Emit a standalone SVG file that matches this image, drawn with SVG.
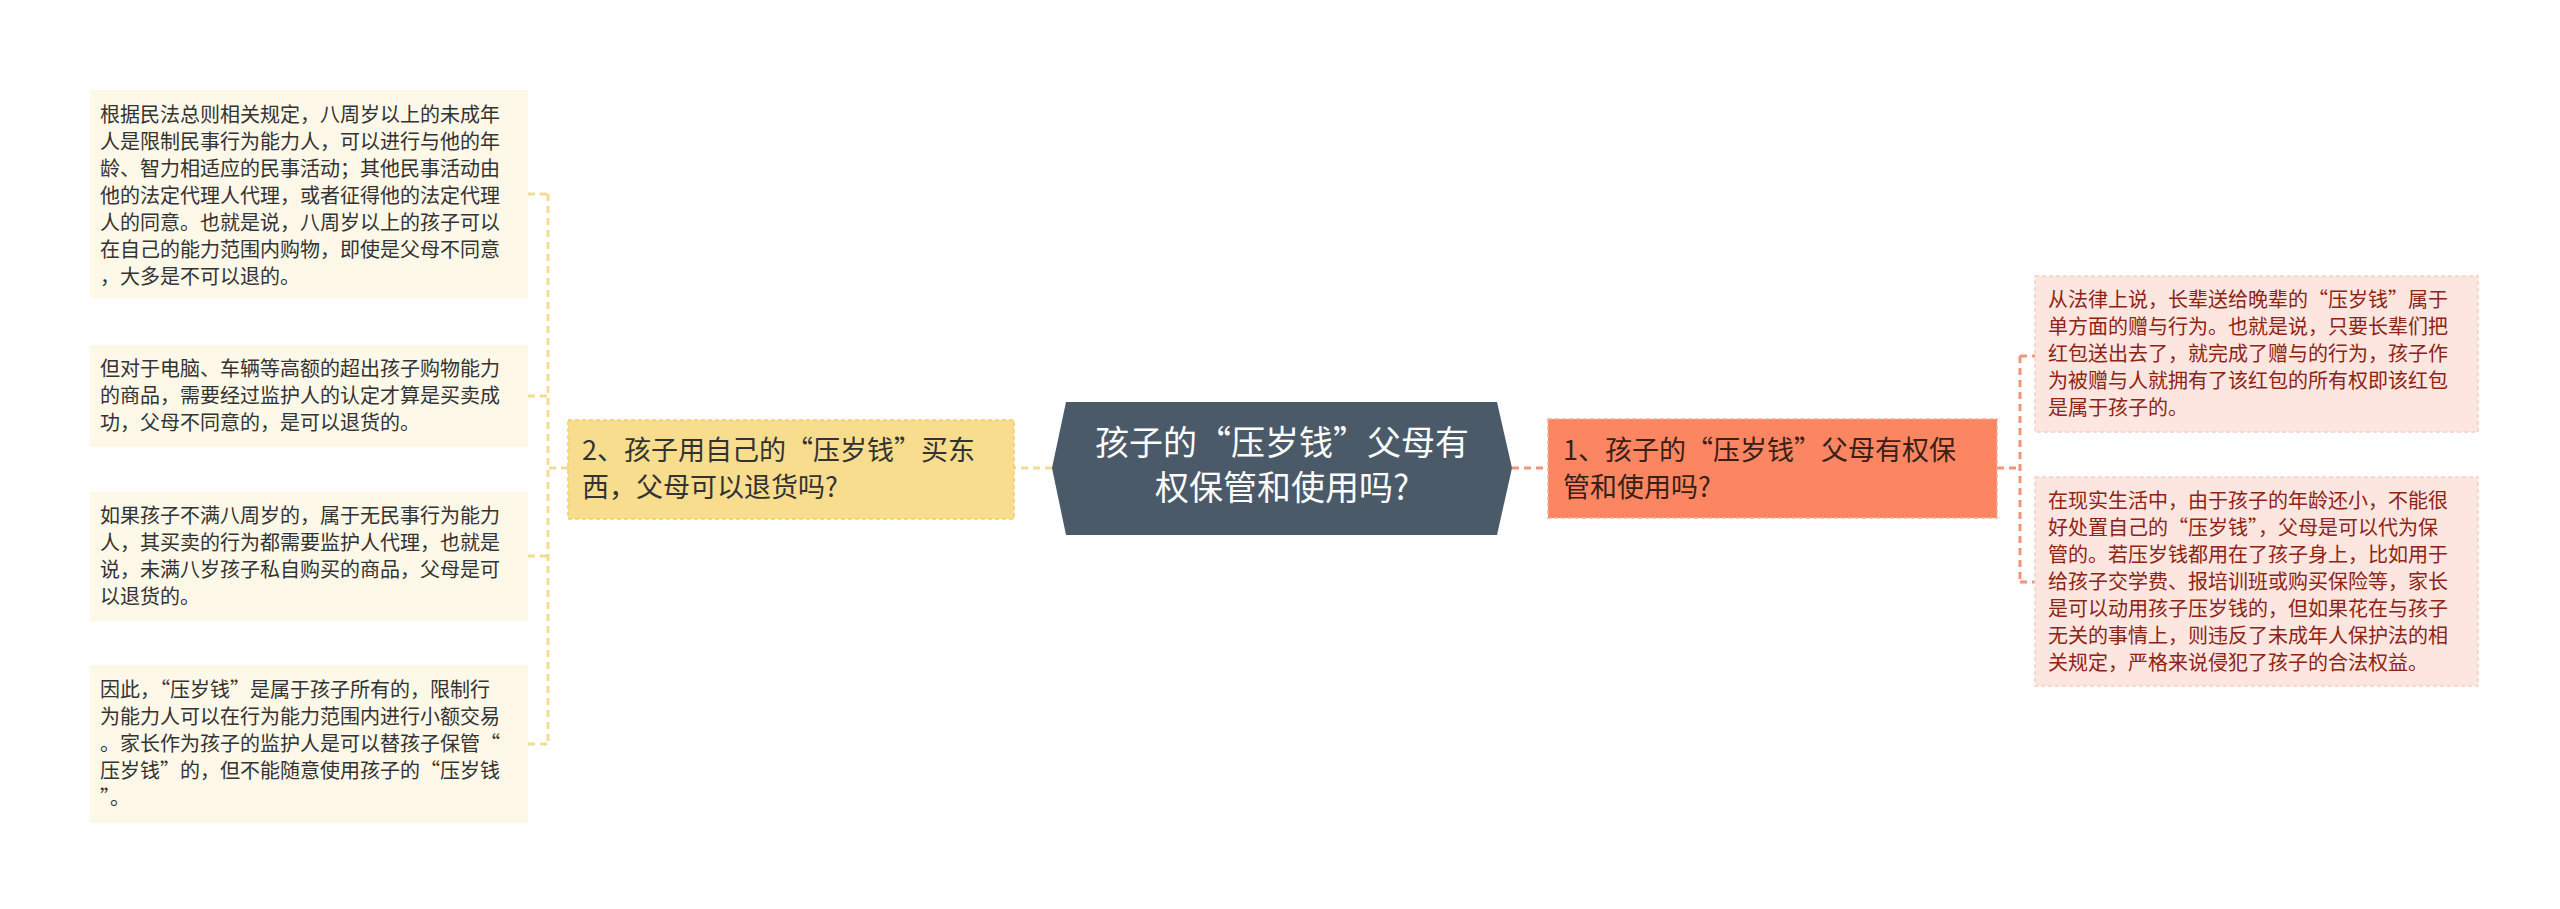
<svg xmlns="http://www.w3.org/2000/svg" width="2560" height="909" viewBox="0 0 2560 909">
<style>
text{font-family:"Noto Sans CJK SC","Noto Sans",sans-serif}
.ll{fill:#fdf8e8}
.lt{font-size:20px;fill:#333}
.rl{fill:#fde5e0;stroke:#f7cfc6;stroke-width:1.5;stroke-dasharray:4 3}
.rt{font-size:20px;fill:#8e2414}
.cy{fill:none;stroke:#f2dc92;stroke-width:2;stroke-dasharray:7 5}
.cr{fill:none;stroke:#f0957a;stroke-width:2;stroke-dasharray:7 5}
</style>
<rect width="2560" height="909" fill="#fff"/>
<g id="connectors">
<path class="cy" d="M1052 468H1014M568 468H548M548 194V744M528 194H548M528 396H548M528 556H548M528 744H548" style="stroke-width:3"/>
<path class="cr" d="M1512 468H1548M1997 468H2020M2020 356V582M2020 356H2035M2020 582H2035" style="stroke-width:3"/>
</g>
<g id="center">
<polygon points="1066,402 1497,402 1512,468 1497,535 1066,535 1052,468" fill="#4b5a69"/>
<text x="1282" y="455" font-size="34" fill="#fff" text-anchor="middle">孩子的“压岁钱”父母有</text>
<text x="1282" y="500" font-size="34" fill="#fff" text-anchor="middle">权保管和使用吗?</text>
</g>
<g id="left-main">
<rect x="568" y="420" width="446" height="99" fill="#f8dd8e" stroke="#f0ce6e" stroke-width="1.5" stroke-dasharray="4 3"/>
<text x="582" y="460" font-size="27" fill="#333">2、孩子用自己的“压岁钱”买东</text>
<text x="582" y="497" font-size="27" fill="#333">西，父母可以退货吗?</text>
</g>
<g id="right-main">
<rect x="1548" y="419" width="449" height="99" fill="#fd8662" stroke="#f0b09a" stroke-width="1.5" stroke-dasharray="4 3"/>
<text x="1563" y="460" font-size="27" fill="#3a2016">1、孩子的“压岁钱”父母有权保</text>
<text x="1563" y="497" font-size="27" fill="#3a2016">管和使用吗?</text>
</g>
<g id="leaf-l1">
<rect class="ll" x="90" y="90" width="438" height="208"/>
<text class="lt"><tspan x="100" y="122">根据民法总则相关规定，八周岁以上的未成年</tspan><tspan x="100" y="149">人是限制民事行为能力人，可以进行与他的年</tspan><tspan x="100" y="176">龄、智力相适应的民事活动；其他民事活动由</tspan><tspan x="100" y="203">他的法定代理人代理，或者征得他的法定代理</tspan><tspan x="100" y="230">人的同意。也就是说，八周岁以上的孩子可以</tspan><tspan x="100" y="257">在自己的能力范围内购物，即使是父母不同意</tspan><tspan x="100" y="284">，大多是不可以退的。</tspan></text>
</g>
<g id="leaf-l2">
<rect class="ll" x="90" y="345" width="438" height="102"/>
<text class="lt"><tspan x="100" y="376">但对于电脑、车辆等高额的超出孩子购物能力</tspan><tspan x="100" y="403">的商品，需要经过监护人的认定才算是买卖成</tspan><tspan x="100" y="430">功，父母不同意的，是可以退货的。</tspan></text>
</g>
<g id="leaf-l3">
<rect class="ll" x="90" y="492" width="438" height="129"/>
<text class="lt"><tspan x="100" y="523">如果孩子不满八周岁的，属于无民事行为能力</tspan><tspan x="100" y="550">人，其买卖的行为都需要监护人代理，也就是</tspan><tspan x="100" y="577">说，未满八岁孩子私自购买的商品，父母是可</tspan><tspan x="100" y="604">以退货的。</tspan></text>
</g>
<g id="leaf-l4">
<rect class="ll" x="90" y="665" width="438" height="158"/>
<text class="lt"><tspan x="100" y="697">因此，“压岁钱”是属于孩子所有的，限制行</tspan><tspan x="100" y="724">为能力人可以在行为能力范围内进行小额交易</tspan><tspan x="100" y="751">。家长作为孩子的监护人是可以替孩子保管“</tspan><tspan x="100" y="778">压岁钱”的，但不能随意使用孩子的“压岁钱</tspan><tspan x="100" y="805">”。</tspan></text>
</g>
<g id="leaf-r1">
<rect class="rl" x="2035" y="276" width="443" height="156"/>
<text class="rt"><tspan x="2048" y="307">从法律上说，长辈送给晚辈的“压岁钱”属于</tspan><tspan x="2048" y="334">单方面的赠与行为。也就是说，只要长辈们把</tspan><tspan x="2048" y="361">红包送出去了，就完成了赠与的行为，孩子作</tspan><tspan x="2048" y="388">为被赠与人就拥有了该红包的所有权即该红包</tspan><tspan x="2048" y="415">是属于孩子的。</tspan></text>
</g>
<g id="leaf-r2">
<rect class="rl" x="2035" y="477" width="443" height="209"/>
<text class="rt"><tspan x="2048" y="508">在现实生活中，由于孩子的年龄还小，不能很</tspan><tspan x="2048" y="535">好处置自己的“压岁钱”，父母是可以代为保</tspan><tspan x="2048" y="562">管的。若压岁钱都用在了孩子身上，比如用于</tspan><tspan x="2048" y="589">给孩子交学费、报培训班或购买保险等，家长</tspan><tspan x="2048" y="616">是可以动用孩子压岁钱的，但如果花在与孩子</tspan><tspan x="2048" y="643">无关的事情上，则违反了未成年人保护法的相</tspan><tspan x="2048" y="670">关规定，严格来说侵犯了孩子的合法权益。</tspan></text>
</g>
</svg>
